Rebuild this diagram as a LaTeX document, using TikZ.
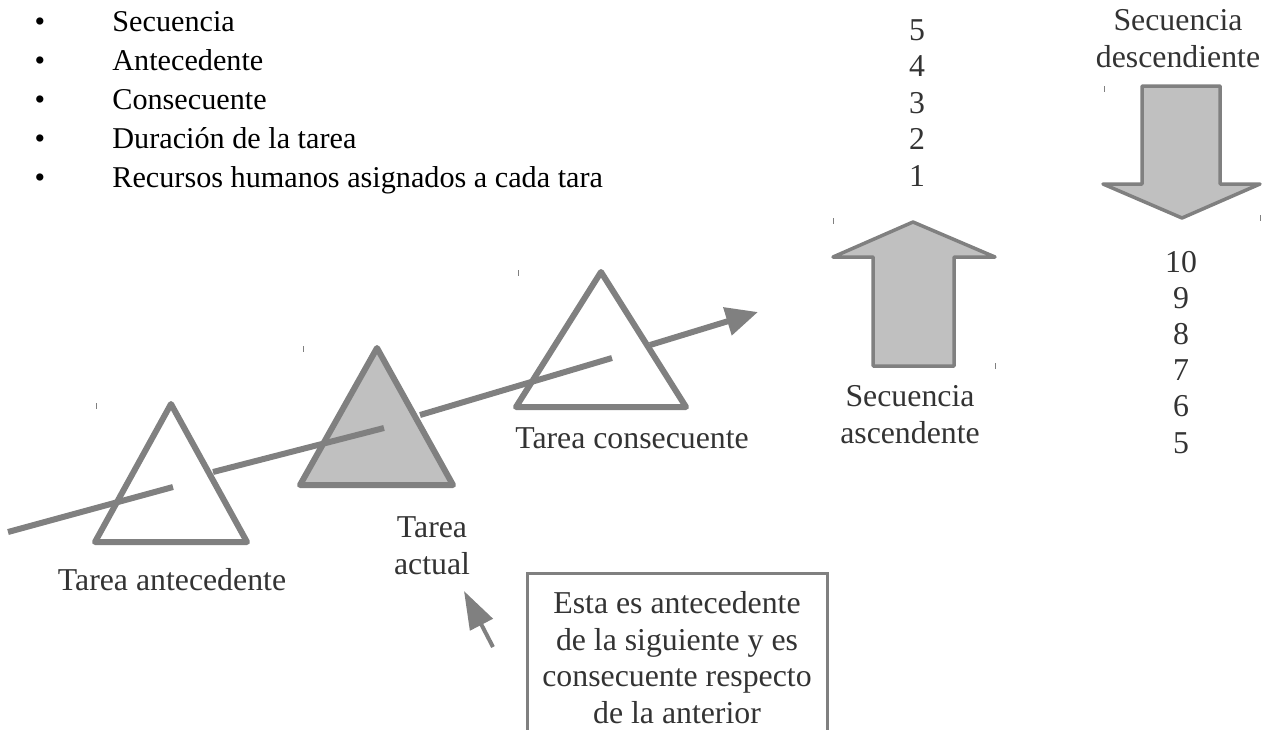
\documentclass[tikz,border=0pt]{standalone}
\usepackage{fontspec}
\setmainfont{Liberation Serif}
\usetikzlibrary{arrows.meta}
\definecolor{linegray}{HTML}{808080}
\definecolor{fillgray}{HTML}{C0C0C0}
\definecolor{textgray}{HTML}{333333}
\tikzset{
  lbl/.style={text=textgray, font=\fontsize{15.9}{18.25}\selectfont, align=center, inner sep=0pt, anchor=base},
  item/.style={text=black, font=\fontsize{15.1}{19.6}\selectfont, inner sep=0pt, anchor=base west},
  tri/.style={draw=linegray, line width=3pt, line join=round},
  bigarrow/.style={draw=linegray, fill=fillgray, line width=1.75pt, line join=round},
  flow/.style={draw=linegray, line width=3pt},
  stray/.style={draw=linegray, line width=0.5pt}
}
\begin{document}
\begin{tikzpicture}[x=0.5pt,y=-0.5pt]
\useasboundingbox (0,0) rectangle (1270,729);
\clip (0,0) rectangle (1270,729);

\path (112,31) node[item] (i1) {Secuencia};
\path (112,70) node[item] (i2) {Antecedente};
\path (112,109) node[item] (i3) {Consecuente};
\path (112,148) node[item] (i4) {Duración de la tarea};
\path (112,187) node[item] (i5) {Recursos humanos asignados a cada tara};
\foreach \i in {1,...,5}
  \path (i\i.base west) ++(-72,0) node[item, anchor=base] {•};

\coordinate (t1a) at (171,404);
\coordinate (t1b) at (95,542);
\coordinate (t1c) at (247,542);
\coordinate (t2a) at (377,348);
\coordinate (t2b) at (300,485);
\coordinate (t2c) at (453,485);
\coordinate (t3a) at (601,272);
\coordinate (t3b) at (516,407);
\coordinate (t3c) at (686,407);
\draw[tri] (t1a) -- (t1b) -- (t1c) -- cycle;
\draw[tri, fill=fillgray] (t2a) -- (t2b) -- (t2c) -- cycle;
\draw[tri] (t3a) -- (t3b) -- (t3c) -- cycle;

\coordinate (s0) at (8,532);
\coordinate (s1) at (173,487);
\coordinate (s2) at (213,472);
\coordinate (s3) at (384,428);
\coordinate (s4) at (420,415);
\coordinate (s5) at (612,358);
\coordinate (s6) at (650,345);
\coordinate (s7) at (758,312);
\draw[flow] (s0) -- (s1);
\draw[flow] (s2) -- (s3);
\draw[flow] (s4) -- (s5);
\draw[flow, -{Triangle[length=16pt,width=14pt]}] (s6) -- (s7);

\path (172,590) node[lbl] (ante) {Tarea antecedente};
\path (432,574) node[lbl] (actual) {Tarea\\actual};
\path (632,448) node[lbl] (cons) {Tarea consecuente};

\draw[bigarrow] (913,222) -- (995,257) -- (954,257) -- (954,366) -- (873,366) -- (873,257) -- (833,257) -- cycle;
\path (910,443) node[lbl] (asc) {Secuencia\\ascendente};
\foreach \n [count=\i] in {5,4,3,2,1}
  \path (917,40+36.5*\i-36.5) node[lbl] (up\i) {\n};

\draw[bigarrow] (1142,86) -- (1220,86) -- (1220,184) -- (1260,184) -- (1182,218) -- (1103,184) -- (1142,184) -- cycle;
\path (1178,67) node[lbl] (desc) {Secuencia\\descendiente};
\foreach \n [count=\i] in {10,9,8,7,6,5}
  \path (1181,272+36.2*\i-36.2) node[lbl] (down\i) {\n};

\draw[linegray, line width=1.5pt] (527,573) rectangle (827,745);
\path (677,723) node[lbl] (nota) {Esta es antecedente\\de la siguiente y es\\consecuente respecto\\de la anterior};
\coordinate (ptail) at (493,647);
\coordinate (ptip) at (464,591);
\draw[linegray, line width=2pt, -{Triangle[length=19pt,width=12.5pt]}] (ptail) -- (ptip);

\draw[stray] (96,403) -- ++(0,6);
\draw[stray] (303,346) -- ++(0,6);
\draw[stray] (518,270) -- ++(0,6);
\draw[stray] (833,218) -- ++(0,6);
\draw[stray] (995,363) -- ++(0,6);
\draw[stray] (1104,86) -- ++(0,6);
\draw[stray] (1260,215) -- ++(0,6);
\end{tikzpicture}
\end{document}
